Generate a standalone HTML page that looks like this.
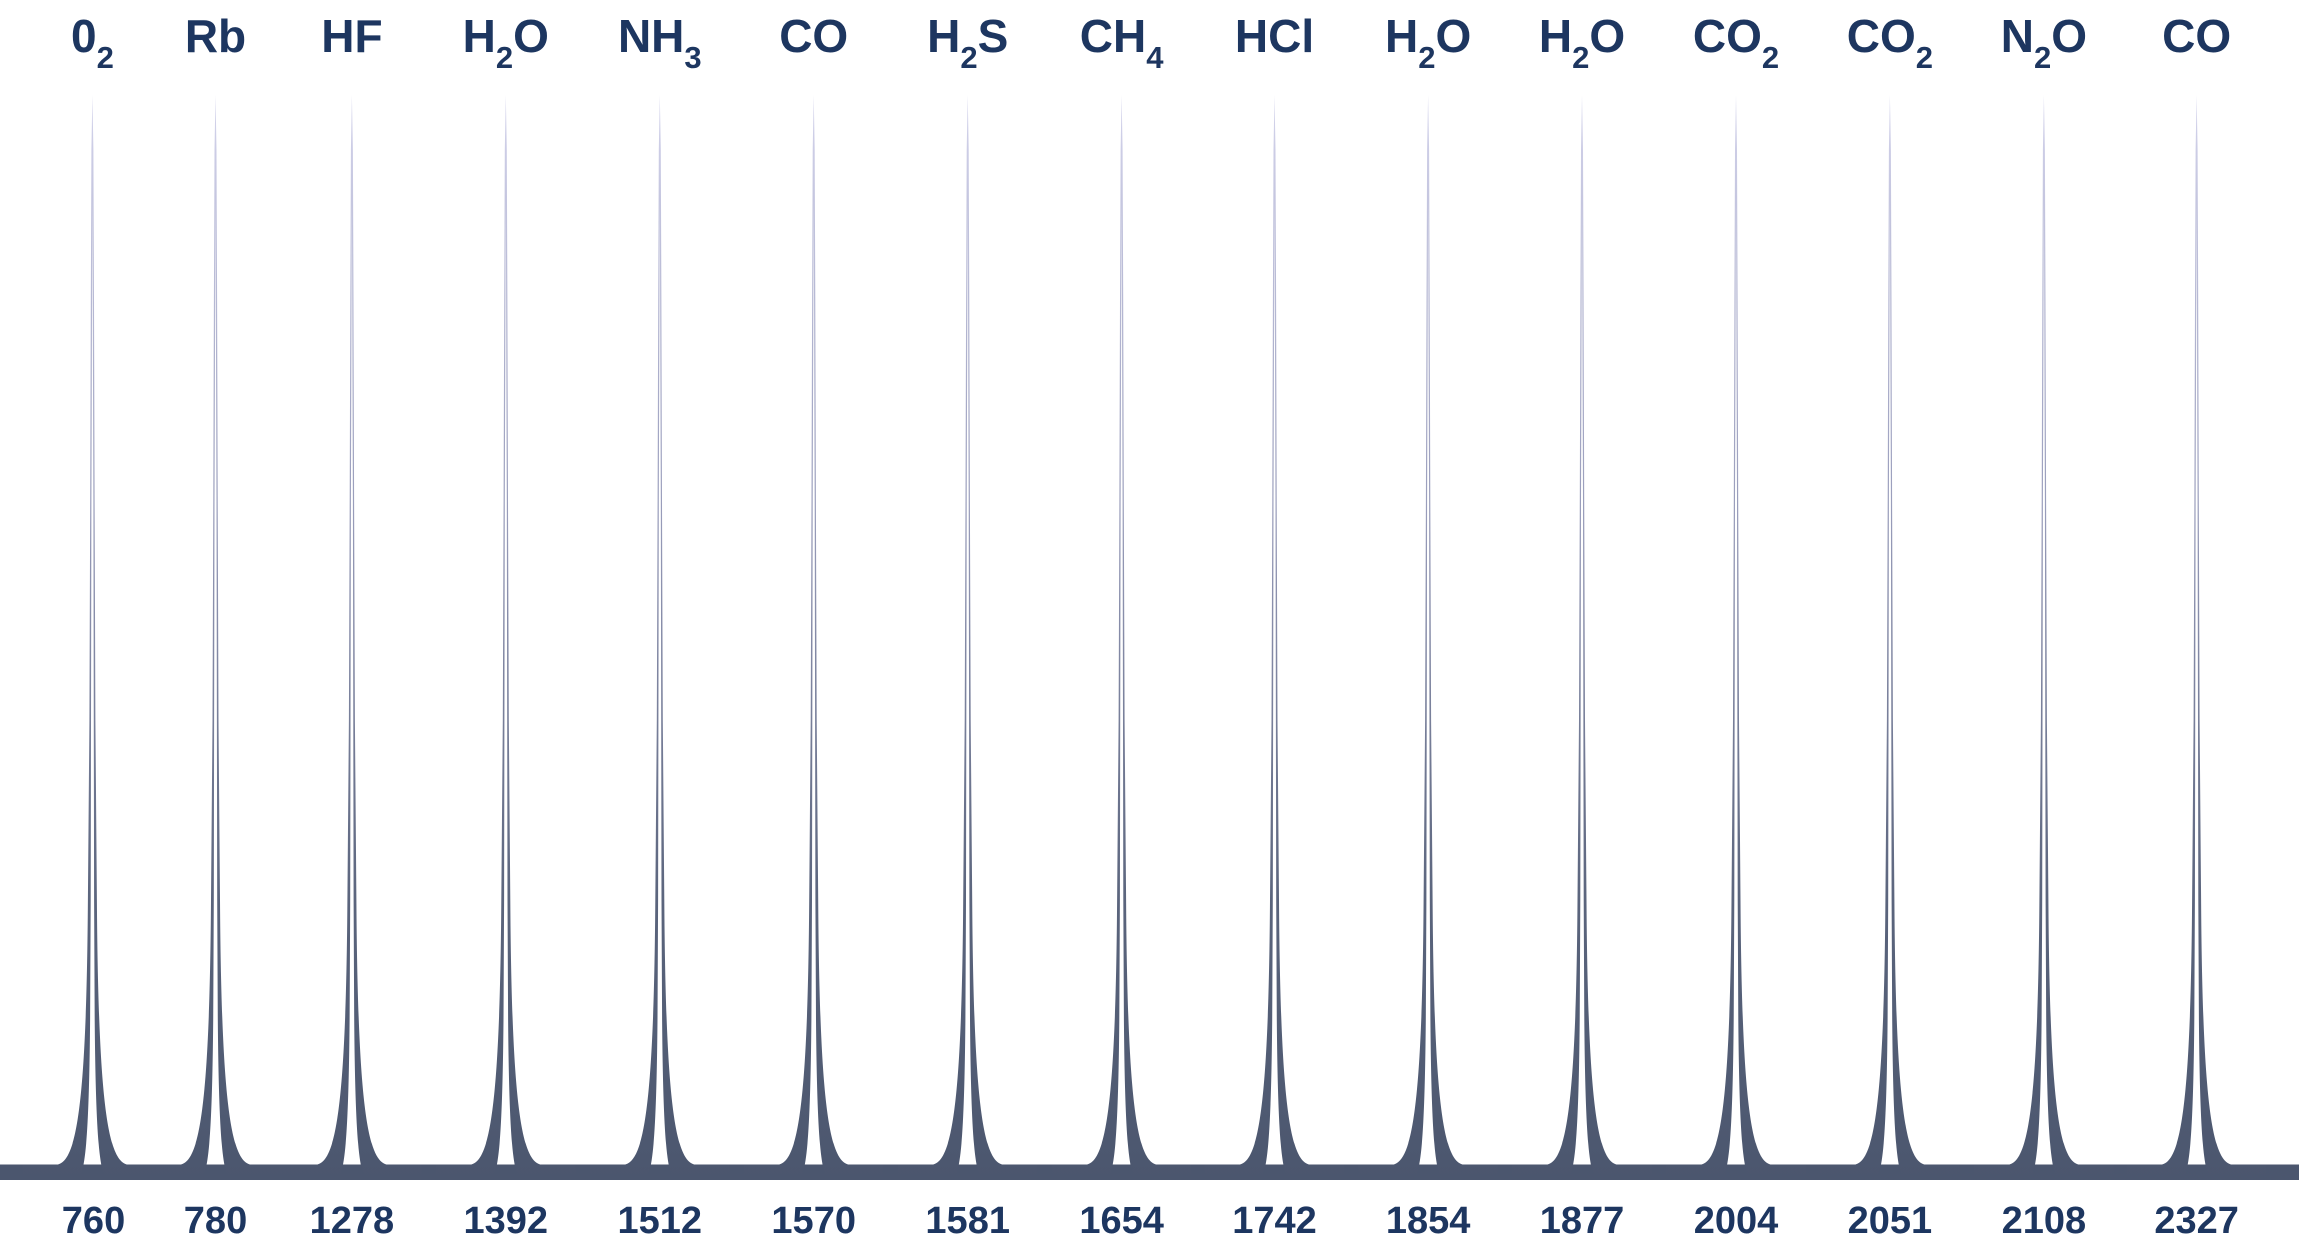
<!DOCTYPE html>
<html><head><meta charset="utf-8"><style>
html,body{margin:0;padding:0;background:#fff;}
svg{display:block;}
text{font-family:"Liberation Sans",sans-serif;font-weight:bold;fill:#1d3660;}
</style></head><body>
<svg width="2299" height="1250" viewBox="0 0 2299 1250" xmlns="http://www.w3.org/2000/svg">
<defs>
<linearGradient id="g" gradientUnits="userSpaceOnUse" x1="0" y1="95" x2="0" y2="1180">
<stop offset="0" stop-color="#d4d4ec"/>
<stop offset="0.38" stop-color="#999dbb"/>
<stop offset="0.75" stop-color="#5a647c"/>
<stop offset="1" stop-color="#4b566e"/>
</linearGradient>
<path id="pk" d="M-70,1165 L-38,1165 C-18,1165 -6,1125 -4.5,900 L-3,720 -2.2,500 -1.6,300 -1,150 0,95 1,150 1.6,300 2.2,500 3,720 4.5,900 C6,1125 18,1165 38,1165 L70,1165 70,1180 17,1180 C8,1180 3.5,1150 2.3,1020 L1.7,900 1,500 0,200 -1,500 -1.7,900 -2.3,1020 C-3.5,1150 -8,1180 -17,1180 L-70,1180 Z" fill="url(#g)"/>
</defs>
<rect x="0" y="1164.5" width="2299" height="15.5" fill="#4b566e"/>
<use href="#pk" x="92.4"/>
<use href="#pk" x="215.5"/>
<use href="#pk" x="351.9"/>
<use href="#pk" x="505.8"/>
<use href="#pk" x="659.8"/>
<use href="#pk" x="813.7"/>
<use href="#pk" x="967.7"/>
<use href="#pk" x="1121.6"/>
<use href="#pk" x="1274.5"/>
<use href="#pk" x="1428.1"/>
<use href="#pk" x="1582"/>
<use href="#pk" x="1736"/>
<use href="#pk" x="1889.9"/>
<use href="#pk" x="2043.9"/>
<use href="#pk" x="2196.6"/>

<g font-size="46" text-anchor="middle">
<text x="92.4" y="52">0<tspan font-size="31" dy="16">2</tspan></text>
<text x="215.5" y="52">Rb</text>
<text x="351.9" y="52">HF</text>
<text x="505.8" y="52">H<tspan font-size="31" dy="16">2</tspan><tspan dy="-16">O</tspan></text>
<text x="659.8" y="52">NH<tspan font-size="31" dy="16">3</tspan></text>
<text x="813.7" y="52">CO</text>
<text x="967.7" y="52">H<tspan font-size="31" dy="16">2</tspan><tspan dy="-16">S</tspan></text>
<text x="1121.6" y="52">CH<tspan font-size="31" dy="16">4</tspan></text>
<text x="1274.5" y="52">HCl</text>
<text x="1428.1" y="52">H<tspan font-size="31" dy="16">2</tspan><tspan dy="-16">O</tspan></text>
<text x="1582" y="52">H<tspan font-size="31" dy="16">2</tspan><tspan dy="-16">O</tspan></text>
<text x="1736" y="52">CO<tspan font-size="31" dy="16">2</tspan></text>
<text x="1889.9" y="52">CO<tspan font-size="31" dy="16">2</tspan></text>
<text x="2043.9" y="52">N<tspan font-size="31" dy="16">2</tspan><tspan dy="-16">O</tspan></text>
<text x="2196.6" y="52">CO</text>
</g>

<g font-size="38" text-anchor="middle">
<text x="93.5" y="1233">760</text>
<text x="215.5" y="1233">780</text>
<text x="351.9" y="1233">1278</text>
<text x="505.8" y="1233">1392</text>
<text x="659.8" y="1233">1512</text>
<text x="813.7" y="1233">1570</text>
<text x="967.7" y="1233">1581</text>
<text x="1121.6" y="1233">1654</text>
<text x="1274.5" y="1233">1742</text>
<text x="1428.1" y="1233">1854</text>
<text x="1582" y="1233">1877</text>
<text x="1736" y="1233">2004</text>
<text x="1889.9" y="1233">2051</text>
<text x="2043.9" y="1233">2108</text>
<text x="2196.6" y="1233">2327</text>
</g>
</svg>
</body></html>
